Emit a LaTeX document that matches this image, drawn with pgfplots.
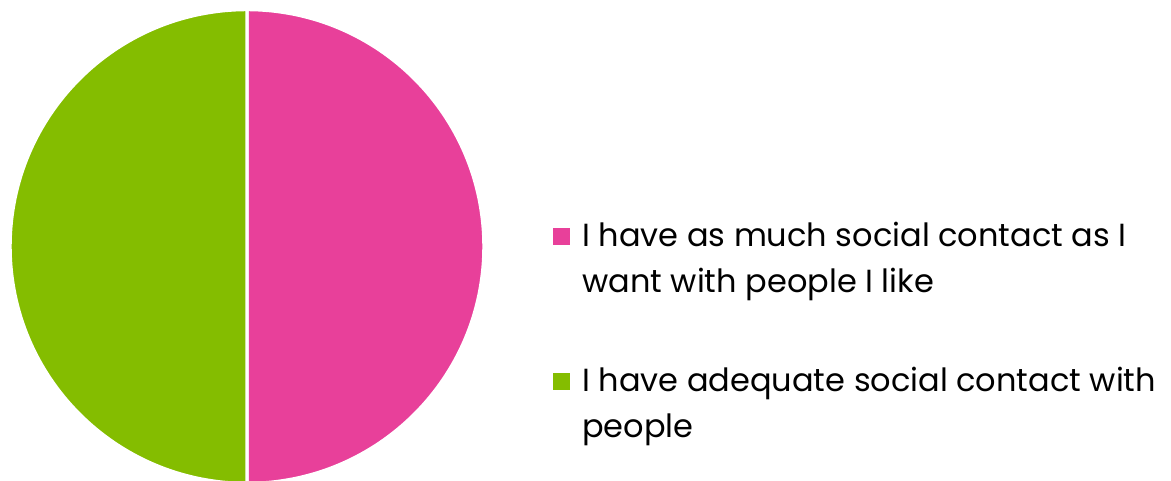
\documentclass[border=0pt]{standalone}
\usepackage{fontspec}
\setmainfont{Poppins}
\usepackage{pgfplots}
\pgfplotsset{compat=1.18}
\definecolor{piepink}{RGB}{232,64,154}
\definecolor{piegreen}{RGB}{132,189,0}
% values (percent)
\def\valA{50}% I have as much social contact as I want with people I like
\def\valB{50}% I have adequate social contact with people
\begin{document}
\begin{tikzpicture}
\begin{axis}[
  width=878.25pt, height=360.75pt, scale only axis,
  xmin=0, xmax=1171, ymin=0, ymax=481, y dir=reverse,
  hide axis, clip=false,
]
\path[use as bounding box] (axis cs:0,0) rectangle (axis cs:1171,481);
\pgfmathsetmacro{\angA}{\valA/(\valA+\valB)*360}
\pgfmathsetmacro{\angB}{\valB/(\valA+\valB)*360}
% pink slice, clockwise from 12 o'clock
\fill[piepink, draw=white, line width=2.6pt] (axis cs:247,246.5) -- ++(90:177.75pt) arc[start angle=90, delta angle=-\angA, radius=177.75pt] -- cycle;
% green slice
\fill[piegreen, draw=white, line width=2.6pt] (axis cs:247,246.5) -- ++(90-\angA:177.75pt) arc[start angle=90-\angA, delta angle=-\angB, radius=177.75pt] -- cycle;
% legend
\fill[piepink] (axis cs:553,228) rectangle (axis cs:570,245);
\fill[piegreen] (axis cs:553,373) rectangle (axis cs:570,390);
\begin{scope}[every node/.style={anchor=base west, inner sep=0pt, font=\fontsize{24}{34}\selectfont}]
\node at (axis cs:582,246) {I have as much social contact as I};
\node at (axis cs:582,292) {want with people I like};
\node at (axis cs:582,391) {I have adequate social contact with};
\node at (axis cs:582,437) {people};
\end{scope}
\end{axis}
\end{tikzpicture}
\end{document}
